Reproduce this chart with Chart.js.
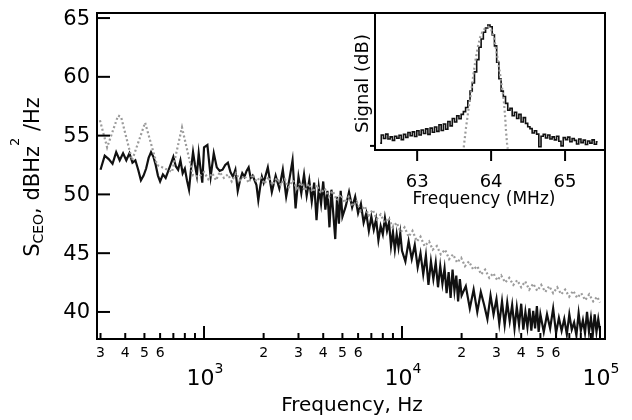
<!DOCTYPE html>
<html>
<head>
<meta charset="utf-8">
<script src="https://cdn.jsdelivr.net/npm/chart.js@4/dist/chart.umd.min.js"></script>
<style>
  html, body { margin: 0; padding: 0; background: #fff; }
  #wrap { position: relative; width: 632px; height: 420px; }
  #mainChart { position: absolute; left: 0; top: 0; }
  #insetChart { position: absolute; left: 330px; top: 0; }
</style>
</head>
<body>
<div id="wrap">
  <canvas id="mainChart" width="632" height="420"></canvas>
  <canvas id="insetChart" width="290" height="215"></canvas>
</div>
<script>
// --- main plot: S_CEO noise spectra ---
const blackFreq = [
  300, 315, 330, 345, 360, 375, 390, 405, 420, 435, 450, 465, 480, 495, 510, 525, 540, 555, 570, 585, 600,
  620, 640, 660, 680, 700, 720, 740, 760, 780, 800, 820, 840, 860, 880, 900, 920, 940, 960, 980, 1000,
  1040, 1080, 1120, 1160, 1200, 1240, 1280, 1320, 1360, 1400, 1440, 1480, 1520, 1560, 1600, 1640, 1680, 1720, 1760, 1800, 1840, 1880, 1920, 1960, 2000,
  2100, 2200, 2300, 2400, 2500, 2600, 2700, 2800, 2900, 3000, 3100, 3200, 3300, 3400, 3500, 3600, 3700, 3800, 3900, 4000, 4100, 4200, 4300, 4400, 4500, 4600, 4700, 4800, 4900, 5000,
  5200, 5400, 5600, 5800, 6000, 6200, 6400, 6600, 6800, 7000, 7200, 7400, 7600, 7800, 8000, 8200, 8400, 8600, 8800, 9000, 9200, 9400, 9600, 9800, 10000,
  10400, 10800, 11200, 11600, 12000, 12400, 12800, 13200, 13600, 14000, 14400, 14800, 15200, 15600, 16000, 16400, 16800, 17200, 17600, 18000, 18400, 18800, 19200, 19600, 20000,
  21000, 22000, 23000, 24000, 25000, 26000, 27000, 28000, 29000, 30000, 31000, 32000, 33000, 34000, 35000, 36000, 37000, 38000, 39000, 40000, 41000, 42000, 43000, 44000, 45000, 46000, 47000, 48000, 49000, 50000,
  52000, 54000, 56000, 58000, 60000, 62000, 64000, 66000, 68000, 70000, 72000, 74000, 76000, 78000, 80000, 82000, 84000, 86000, 88000, 90000, 92000, 94000, 96000, 98000, 100000
];
const blackLevel = [
  52.1, 53.3, 53.0, 52.6, 53.6, 52.9, 53.5, 52.9, 53.5, 52.7, 52.9, 52.1, 51.2, 51.6, 52.2, 53.1, 53.6, 53.2, 52.5, 51.6, 51.1,
  51.7, 51.4, 52.0, 52.6, 53.2, 52.4, 52.1, 52.9, 51.8, 52.2, 51.2, 50.4, 52.2, 53.6, 52.5, 51.6, 53.5, 52.2, 51.0, 54.0,
  54.2, 51.5, 53.5, 52.3, 52.0, 52.1, 52.5, 52.7, 51.9, 51.5, 52.1, 50.3, 51.2, 51.8, 51.5, 52.0, 52.3, 51.4, 51.6, 51.2, 50.8, 49.5, 50.6, 51.5, 51.0,
  52.3, 50.2, 51.6, 50.5, 52.1, 49.8, 51.3, 52.9, 48.8, 51.5, 50.1, 51.7, 49.9, 51.2, 49.4, 51.0, 47.8, 50.6, 49.2, 51.1, 48.7, 50.3, 47.2, 50.4, 48.3, 46.2, 49.8, 47.5, 50.3, 48.1,
  49.0, 50.2, 48.9, 49.8, 48.4, 49.2, 47.6, 48.4, 46.9, 48.1, 47.0, 47.9, 46.1, 47.3, 46.6, 48.0, 46.9, 47.6, 45.6, 46.8, 45.3, 46.6, 45.5, 46.7, 45.2,
  44.3, 46.0, 44.5, 45.7, 43.8, 45.0, 43.2, 44.8, 42.3, 44.3, 42.8, 44.2, 42.1, 43.9, 42.4, 43.7, 41.6, 43.4, 41.2, 43.6, 41.8, 43.1, 40.9, 42.8, 41.4,
  42.2, 40.3, 41.9, 40.0, 41.7, 40.6, 39.4, 41.4, 39.8, 41.1, 39.0, 40.9, 38.9, 40.8, 39.2, 40.6, 38.6, 40.4, 38.9, 40.7, 38.5, 40.0, 38.7, 40.3, 38.4, 40.1, 38.6, 40.5, 38.3, 39.8,
  38.3, 39.8, 38.6, 40.3, 38.2, 39.5, 38.4, 39.4, 38.1, 39.8, 38.5, 39.1, 38.0, 39.9, 38.4, 39.3, 38.2, 40.0, 38.3, 39.5, 38.1, 39.8, 38.3, 39.4, 38.4
];
const grayFreq = [
  298, 324, 368, 381, 433, 504, 579, 635, 689, 774, 880, 944,
  1000, 1050, 1100, 1150, 1200, 1260, 1320, 1380, 1450, 1520,
  1600, 1680, 1760, 1840, 1930, 2020, 2120, 2220, 2330, 2440,
  2560, 2680, 2810, 2940, 3080, 3230, 3380, 3540, 3710, 3890,
  4070, 4270, 4470, 4680, 4900, 5140, 5380, 5640, 5900, 6180,
  6480, 6790, 7110, 7450, 7800, 8170, 8560, 8970, 9400, 9850,
  10300, 10800, 11300, 11900, 12400, 13000, 13700, 14300, 15000, 15700,
  16500, 17300, 18100, 19000, 19900, 20800, 21800, 22900, 24000, 25100,
  26300, 27600, 28900, 30300, 31700, 33200, 34800, 36500, 38200, 40000,
  41900, 43900, 46000, 48200, 50500, 52900, 55400, 58000, 60800, 63700,
  66700, 69900, 73200, 76700, 80400, 84200, 88200, 92400, 96800, 100000
];
const grayLevel = [
  56.3, 54.0, 56.7, 56.6, 52.9, 56.1, 52.5, 52.2, 51.9, 55.7, 51.6, 51.5,
  51.9, 51.3, 51.8, 51.2, 51.9, 51.4, 51.7, 51.1, 51.8, 51.2,
  51.6, 51.0, 51.7, 51.1, 51.5, 50.9, 51.5, 50.8, 51.4, 50.8,
  51.3, 50.6, 51.2, 50.5, 51.0, 50.3, 50.9, 50.2, 50.8, 50.1,
  50.5, 49.8, 50.3, 49.5, 50.0, 49.3, 49.8, 49.0, 49.4, 48.6,
  49.0, 48.2, 48.7, 47.9, 48.3, 47.6, 48.0, 47.2, 47.6, 46.8,
  47.2, 46.4, 46.9, 46.0, 46.4, 45.6, 46.0, 45.3, 45.6, 44.9,
  45.3, 44.5, 44.9, 44.2, 44.6, 43.9, 44.3, 43.6, 43.9, 43.2,
  43.6, 42.9, 43.3, 42.7, 43.1, 42.5, 42.9, 42.3, 42.7, 42.1,
  42.6, 41.9, 42.4, 41.8, 42.3, 41.7, 42.2, 41.6, 42.1, 41.5,
  41.9, 41.3, 41.8, 41.2, 41.6, 41.0, 41.5, 40.9, 41.3, 40.8
];
const yTicks = [40, 45, 50, 55, 60, 65];
const xMinorTicks = [300, 400, 500, 600, 700, 800, 900, 2000, 3000, 4000, 5000, 6000, 7000, 8000, 9000,
  20000, 30000, 40000, 50000, 60000, 70000, 80000, 90000];
const xMinorLabelValues = [300, 400, 500, 600, 2000, 3000, 4000, 5000, 6000, 20000, 30000, 40000, 50000, 60000];
const xMinorLabelText = ['3', '4', '5', '6', '2', '3', '4', '5', '6', '2', '3', '4', '5', '6'];
const xMajorTicks = [1000, 10000, 100000];
const xMajorExp = ['3', '4', '5'];

// --- inset: beat note ---
const insetFreq = [
  62.50, 62.53, 62.56, 62.59, 62.62, 62.65, 62.68, 62.71, 62.74, 62.77,
  62.80, 62.83, 62.86, 62.89, 62.92, 62.95, 62.98, 63.01, 63.04, 63.07,
  63.10, 63.13, 63.16, 63.19, 63.22, 63.25, 63.28, 63.31, 63.34, 63.37,
  63.40, 63.43, 63.46, 63.49, 63.52, 63.55, 63.58, 63.61, 63.64, 63.67,
  63.70, 63.73, 63.76, 63.79, 63.82, 63.85, 63.88, 63.91, 63.94, 63.97,
  64.00, 64.03, 64.06, 64.09, 64.12, 64.15, 64.18, 64.21, 64.24, 64.27,
  64.30, 64.33, 64.36, 64.39, 64.42, 64.45, 64.48, 64.51, 64.54, 64.57,
  64.60, 64.63, 64.66, 64.69, 64.72, 64.75, 64.78, 64.81, 64.84, 64.87,
  64.90, 64.93, 64.96, 64.99, 65.02, 65.05, 65.08, 65.11, 65.14, 65.17,
  65.20, 65.23, 65.26, 65.29, 65.32, 65.35, 65.38, 65.41, 65.44
];
const insetLevel = [
  -47.5, -44.5, -45.8, -44.2, -46.0, -45.2, -46.5, -45.0, -45.7, -44.6,
  -46.2, -44.3, -45.4, -43.6, -44.8, -43.4, -45.1, -43.0, -44.5, -42.7,
  -44.0, -42.3, -44.3, -42.0, -43.5, -41.6, -43.2, -40.8, -42.9, -40.5,
  -42.4, -39.6, -41.2, -38.5, -39.8, -37.5, -38.6, -37.0, -36.0, -34.5,
  -32.0, -28.5, -25.5, -21.5, -17.0, -12.5, -9.5, -7.0, -5.5, -4.4,
  -5.0, -8.0, -12.0, -18.0, -24.0, -28.5, -30.5, -33.0, -35.5, -34.8,
  -37.5, -36.2, -38.5, -37.0, -39.8, -38.2, -40.3, -41.5, -42.2, -43.8,
  -43.0, -44.2, -48.8, -45.0, -44.3, -45.6, -44.5, -46.0, -45.2, -46.3,
  -45.0, -46.8, -48.5, -45.5, -46.2, -45.3, -47.0, -45.8, -46.5, -47.8,
  -46.0, -47.3, -46.4, -48.0, -46.7, -47.5, -46.3, -47.9, -47.0
];
const insetFitFreq = [63.63, 63.645, 63.66, 63.675, 63.70, 63.73, 63.76, 63.79, 63.82, 63.85, 63.88, 63.92, 63.96,
  64.00, 64.03, 64.06, 64.09, 64.12, 64.14, 64.16, 64.175, 64.19, 64.20, 64.215, 64.225];
const insetFitLevel = [-49.0, -45.5, -42.0, -39.0, -34.0, -29.0, -22.5, -17.0, -12.5, -9.0, -7.0, -5.5, -5.0,
  -6.0, -8.0, -12.0, -17.0, -22.0, -26.0, -29.5, -33.0, -38.0, -42.5, -47.5, -49.5];
const insetXTicks = [63, 64, 65];
const insetYTicks = [-48.5];

const FONT = '"DejaVu Sans", sans-serif';

function pts(xs, ys) {
  const n = Math.min(xs.length, ys.length);
  const out = [];
  for (let i = 0; i < n; i++) out.push({ x: xs[i], y: ys[i] });
  return out;
}

function seg(ctx, x1, y1, x2, y2) {
  ctx.beginPath();
  ctx.moveTo(x1, y1);
  ctx.lineTo(x2, y2);
  ctx.stroke();
}

// draws a run of text pieces (size, shift) starting at x, baseline y
function drawRich(ctx, parts, x, y) {
  parts.forEach(p => {
    ctx.font = p.size + 'px ' + FONT;
    ctx.fillText(p.t, x, y + (p.dy || 0));
    x += ctx.measureText(p.t).width;
  });
}
function richWidth(ctx, parts) {
  let w = 0;
  parts.forEach(p => {
    ctx.font = p.size + 'px ' + FONT;
    w += ctx.measureText(p.t).width;
  });
  return w;
}

const mainFrame = {
  id: 'mainFrame',
  afterDraw(chart) {
    const { ctx, chartArea: a, scales: { x, y } } = chart;
    ctx.save();
    ctx.strokeStyle = '#000';
    ctx.fillStyle = '#000';
    ctx.lineWidth = 2;
    ctx.strokeRect(a.left, a.top, a.right - a.left, a.bottom - a.top);

    // y ticks (inward) + labels
    ctx.font = '21px ' + FONT;
    ctx.textAlign = 'right';
    ctx.textBaseline = 'middle';
    yTicks.forEach(v => {
      const py = y.getPixelForValue(v);
      seg(ctx, a.left, py, a.left + 13, py);
      ctx.fillText(String(v), a.left - 7, py + 1);
    });

    // x ticks (inward)
    xMinorTicks.forEach(v => {
      const px = x.getPixelForValue(v);
      seg(ctx, px, a.bottom, px, a.bottom - 6);
    });
    xMajorTicks.forEach(v => {
      const px = x.getPixelForValue(v);
      seg(ctx, px, a.bottom, px, a.bottom - 13);
    });

    ctx.textBaseline = 'alphabetic';
    ctx.textAlign = 'center';
    ctx.font = '14px ' + FONT;
    xMinorLabelValues.forEach((v, i) => {
      ctx.fillText(xMinorLabelText[i], x.getPixelForValue(v), 357);
    });

    ctx.textAlign = 'left';
    xMajorTicks.forEach((v, i) => {
      const parts = [{ t: '10', size: 22 }, { t: xMajorExp[i], size: 14, dy: -12 }];
      const w = richWidth(ctx, parts);
      drawRich(ctx, parts, x.getPixelForValue(v) - w / 2 + 1, 385);
    });

    // axis titles
    ctx.font = '20px ' + FONT;
    ctx.textAlign = 'center';
    ctx.fillText('Frequency, Hz', (a.left + a.right) / 2 + 1, 411);

    ctx.textAlign = 'left';
    const yt = [
      { t: 'S', size: 21 },
      { t: 'CEO', size: 14, dy: 4 },
      { t: ', dBHz', size: 21 },
      { t: '2', size: 13, dy: -20 },
      { t: ' /Hz', size: 21 }
    ];
    ctx.translate(39, (a.top + a.bottom) / 2 + 1);
    ctx.rotate(-Math.PI / 2);
    drawRich(ctx, yt, -richWidth(ctx, yt) / 2, 0);
    ctx.restore();
  }
};

const insetFrame = {
  id: 'insetFrame',
  afterDraw(chart) {
    const { ctx, chartArea: a, scales: { x, y } } = chart;
    ctx.save();
    ctx.strokeStyle = '#000';
    ctx.fillStyle = '#000';
    ctx.lineWidth = 2;
    ctx.strokeRect(a.left, a.top, a.right - a.left, a.bottom - a.top);

    ctx.font = '18px ' + FONT;
    ctx.textAlign = 'center';
    ctx.textBaseline = 'alphabetic';
    insetXTicks.forEach(v => {
      const px = x.getPixelForValue(v);
      seg(ctx, px, a.bottom, px, a.bottom + 11);
      ctx.fillText(String(v), px, 187);
    });
    insetYTicks.forEach(v => {
      const py = y.getPixelForValue(v);
      seg(ctx, a.left - 5, py, a.left, py);
    });

    ctx.font = '17px ' + FONT;
    ctx.fillText('Frequency (MHz)', (a.left + a.right) / 2 - 6, 204);

    ctx.font = '18px ' + FONT;
    ctx.translate(38, (a.top + a.bottom) / 2 + 2);
    ctx.rotate(-Math.PI / 2);
    ctx.fillText('Signal (dB)', 0, 0);
    ctx.restore();
  }
};

new Chart(document.getElementById('mainChart').getContext('2d'), {
  type: 'line',
  data: {
    datasets: [
      {
        label: 'free-running',
        data: pts(grayFreq, grayLevel),
        borderColor: '#9b9b9b',
        borderWidth: 2.2,
        borderDash: [2, 2.4],
        pointRadius: 0,
        tension: 0
      },
      {
        label: 'locked',
        data: pts(blackFreq, blackLevel),
        borderColor: '#111',
        borderWidth: 2.2,
        pointRadius: 0,
        tension: 0
      }
    ]
  },
  options: {
    responsive: false,
    animation: false,
    layout: { padding: { left: 0, top: 13, right: 27, bottom: 0 } },
    plugins: { legend: { display: false }, tooltip: { enabled: false } },
    scales: {
      x: {
        type: 'logarithmic', min: 288, max: 106000,
        grid: { display: false }, border: { display: false }, ticks: { display: false },
        afterFit: s => { s.height = 81; }
      },
      y: {
        min: 37.7, max: 65.43,
        grid: { display: false }, border: { display: false }, ticks: { display: false },
        afterFit: s => { s.width = 97; }
      }
    }
  },
  plugins: [mainFrame]
});

new Chart(document.getElementById('insetChart').getContext('2d'), {
  type: 'line',
  data: {
    datasets: [
      {
        label: 'fit',
        data: pts(insetFitFreq, insetFitLevel),
        borderColor: '#9b9b9b',
        borderWidth: 2.2,
        borderDash: [2, 2.6],
        pointRadius: 0,
        tension: 0
      },
      {
        label: 'beat',
        data: pts(insetFreq, insetLevel),
        borderColor: '#111',
        borderWidth: 1.6,
        stepped: 'middle',
        pointRadius: 0
      }
    ]
  },
  options: {
    responsive: false,
    animation: false,
    layout: { padding: { left: 0, top: 13, right: 15, bottom: 0 } },
    plugins: { legend: { display: false }, tooltip: { enabled: false } },
    scales: {
      x: {
        type: 'linear', min: 62.43, max: 65.54,
        grid: { display: false }, border: { display: false }, ticks: { display: false },
        afterFit: s => { s.height = 65; }
      },
      y: {
        min: -50, max: 0,
        grid: { display: false }, border: { display: false }, ticks: { display: false },
        afterFit: s => { s.width = 45; }
      }
    }
  },
  plugins: [insetFrame]
});
</script>
</body>
</html>
